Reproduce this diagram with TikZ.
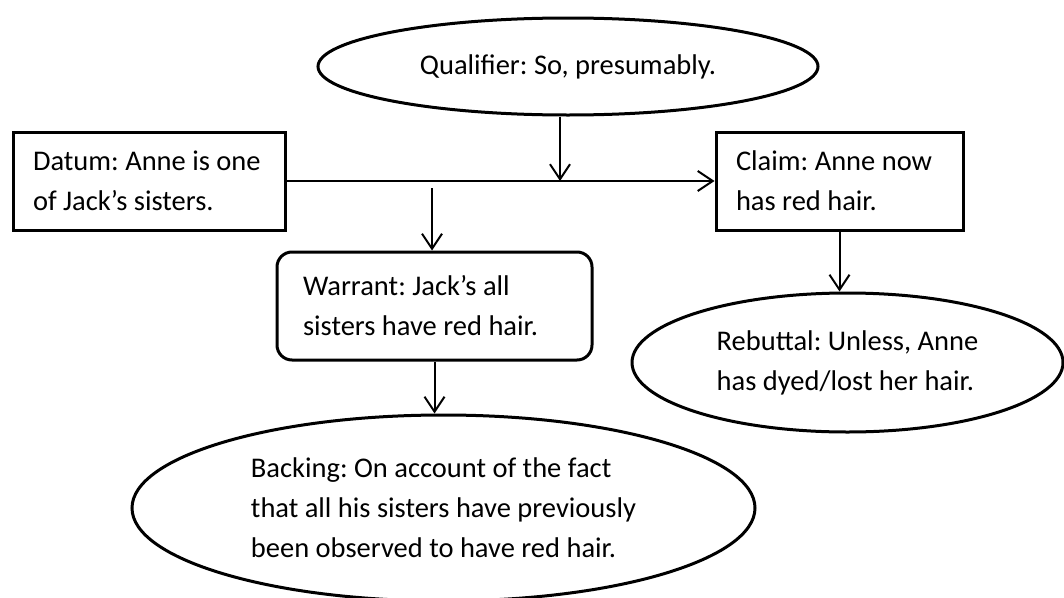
\documentclass[tikz,border=0pt]{standalone}
\usepackage{fontspec}
\setmainfont{Carlito}
\usetikzlibrary{shapes.geometric, arrows.meta}

\begin{document}
\begin{tikzpicture}[
    x=1pt, y=-1pt,
    font=\fontsize{28.5}{40}\selectfont\frenchspacing,
    box/.style={draw, line width=3pt, minimum height=98pt, align=flush left},
    rbox/.style={box, rounded corners=15pt, minimum height=108pt},
    oval/.style={draw, ellipse, line width=3pt, inner sep=0pt, align=left},
    arr/.style={-{Straight Barb[length=15pt, width=20pt]}, line width=2pt},
]
\useasboundingbox (0,0) rectangle (1064,597);

\node[oval, minimum width=500pt, minimum height=97pt] (qual) at (568,66.5) {Qualifier: So, presumably.};
\node[box, text width=232pt, inner xsep=20pt] (datum) at (149,181) {Datum: Anne is one\\of Jack’s sisters.};
\node[box, text width=207pt, inner xsep=20pt] (claim) at (839.5,181) {Claim: Anne now\\has red hair.};
\node[rbox, text width=263pt, inner xsep=26pt] (warrant) at (434.5,306) {Warrant: Jack’s all\\sisters have red hair.};
\node[oval, minimum width=431pt, minimum height=139pt] (rebuttal) at (847.5,362.5) {Rebuttal: Unless, Anne\\has dyed/lost her hair.};
\node[oval, minimum width=623pt, minimum height=186pt] (backing) at (443.5,508) {Backing: On account of the fact\\that all his sisters have previously\\been observed to have red hair.};

\coordinate (qtip) at (560,181);
\coordinate (wtop) at (432,188);

\draw[arr] (datum.east) -- (claim.west);
\draw[arr] (qual.south -| qtip) -- (qtip);
\draw[arr] (wtop) -- (wtop |- warrant.north);

\foreach \a/\b in {warrant/backing, claim/rebuttal} {
    \draw[arr] (\a.south) -- (\a.south |- \b.north);
}

\end{tikzpicture}
\end{document}
